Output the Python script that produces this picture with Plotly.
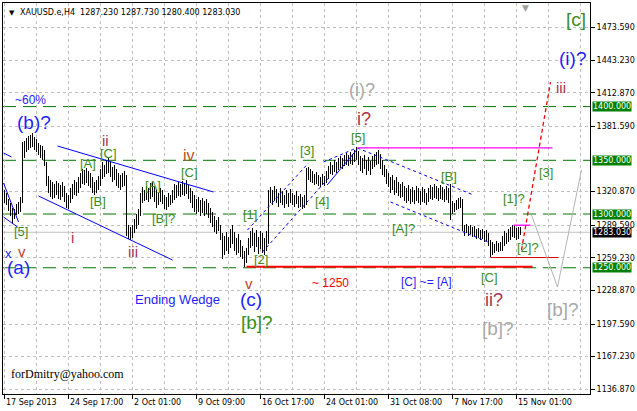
import plotly.graph_objects as go

# ---------------- data ----------------
highs = [1322,1320,1314,1310,1306,1305,1309,1311,1316,1367,
         1368,1371,1373,1374,1375,1372,1370,1366,1364,1363,
         1360,1348,1335,1332,1330,1328,1331,1329,1327,1330,
         1326,1320,1318,1324,1328,1332,1330,1334,1338,1342,
         1341,1343,1340,1338,1334,1330,1332,1335,1342,1348,
         1346,1350,1353,1348,1344,1346,1342,1338,1336,1338,
         1340,1336,1290,1288,1290,1295,1300,1305,1320,1325,
         1322,1326,1324,1329,1330,1325,1322,1320,1324,1322,
         1318,1316,1320,1318,1322,1328,1327,1330,1328,1331,
         1329,1332,1327,1324,1321,1318,1314,1316,1313,1315,
         1312,1314,1310,1306,1302,1298,1294,1297,1290,1282,
         1280,1283,1279,1286,1290,1283,1278,1281,1276,1270,
         1266,1268,1278,1284,1287,1282,1285,1279,1284,1282,
         1278,1284,1322,1325,1322,1326,1323,1320,1324,1321,
         1318,1322,1320,1323,1320,1318,1321,1317,1319,1316,
         1318,1343,1344,1342,1340,1337,1339,1336,1334,1337,
         1335,1340,1345,1348,1346,1350,1348,1352,1354,1352,
         1355,1357,1355,1358,1356,1360,1362,1359,1354,1352,
         1355,1350,1353,1349,1354,1356,1358,1360,1356,1350,
         1346,1342,1338,1334,1336,1332,1334,1330,1328,1330,
         1326,1324,1327,1323,1325,1322,1326,1324,1321,1325,
         1323,1320,1324,1327,1325,1328,1326,1324,1327,1325,
         1323,1326,1324,1328,1312,1310,1313,1315,1316,1314,
         1290,1291,1289,1290,1288,1289,1286,1287,1285,1286,
         1284,1285,1282,1276,1274,1272,1275,1273,1274,1280,
         1284,1282,1286,1288,1290,1289,1287,1288,1287.73]
lows = [1310,1308,1303,1298,1292,1295,1299,1300,1302,1310,
        1352,1358,1360,1361,1362,1360,1358,1355,1352,1350,
        1345,1326,1320,1316,1314,1315,1318,1314,1313,1316,
        1311,1306,1305,1310,1314,1318,1317,1320,1324,1328,
        1327,1329,1326,1324,1320,1318,1320,1322,1326,1333,
        1334,1337,1338,1334,1330,1332,1326,1324,1322,1325,
        1326,1280,1277,1276,1278,1282,1286,1290,1298,1310,
        1312,1313,1311,1314,1316,1311,1306,1308,1311,1309,
        1305,1304,1307,1308,1310,1313,1315,1317,1316,1318,
        1317,1319,1314,1310,1306,1302,1300,1302,1298,1301,
        1298,1300,1296,1292,1288,1283,1281,1284,1276,1258,
        1262,1266,1263,1268,1272,1266,1262,1264,1260,1258,
        1251,1254,1262,1268,1270,1265,1269,1263,1267,1264,
        1262,1266,1272,1310,1308,1312,1310,1307,1310,1308,
        1306,1309,1307,1310,1308,1307,1309,1306,1307,1305,
        1306,1308,1332,1330,1329,1327,1328,1326,1325,1327,
        1326,1329,1333,1337,1336,1339,1338,1341,1343,1342,
        1345,1346,1345,1347,1346,1348,1350,1346,1340,1338,
        1342,1336,1340,1336,1342,1344,1346,1347,1342,1336,
        1334,1328,1325,1320,1322,1318,1320,1317,1315,1316,
        1312,1310,1312,1309,1311,1309,1312,1310,1308,1311,
        1310,1308,1311,1314,1313,1315,1314,1312,1314,1313,
        1311,1313,1310,1294,1300,1302,1304,1305,1306,1284,
        1280,1282,1280,1281,1279,1280,1277,1278,1276,1277,
        1274,1275,1270,1260,1262,1264,1266,1265,1266,1266,
        1270,1272,1274,1276,1279,1278,1276,1277,1280.4]

last_ohlc = [1287.23, 1287.73, 1280.40, 1283.03]
date_ticks = [0, 32, 64, 96, 128, 160, 192, 224, 256]
date_labels = ["17 Sep 2013", "24 Sep 17:00", "2 Oct 01:00", "9 Oct 09:00",
               "16 Oct 17:00", "24 Oct 01:00", "31 Oct 08:00", "7 Nov 17:00",
               "15 Nov 01:00"]
minor_grid = [16, 48, 80, 112, 144, 176, 208, 240, 272, 288]
price_ticks = [1136.87, 1167.23, 1197.59, 1228.87, 1259.23, 1289.59,
               1320.87, 1381.59, 1412.87, 1443.23, 1473.59]
levels = [1400, 1350, 1300, 1250]

BLUE = "#1f1fff"
MAROON = "#a8344c"
GREEN = "#3a8c1c"
GREY = "#a9a9a9"
BROWN = "#b8541e"
VRED = "#c8401a"

# line objects: (x0, y0, x1, y1) in bar index / price
blue_solid = [(26.5, 1363.3, 104.5, 1320.5), (17, 1316.8, 84, 1257.2),
              (-0.5, 1356.8, 3.5, 1353.1), (-0.5, 1328.9, 7, 1292.6),
              (-0.5, 1297.2, 6.5, 1287.9), (161.3, 1327.0, 176.3, 1360.2)]
blue_dotted = [(121.5, 1285.1, 152, 1347.5), (129, 1264.7, 162, 1333.5),
               (159.5, 1348.4, 176, 1361.4), (176.5, 1361.4, 234.5, 1317.7),
               (193, 1311.2, 243, 1273.0)]
magenta_lines = [(176.5, 1361.5, 274, 1361.5), (254.5, 1289.6, 263, 1289.6)]
red_thick = [(121, 1251.0, 264, 1251.0)]
red_thin = [(243, 1259.5, 277, 1259.5)]
red_dashed = [(258.5, 1266.5, 273, 1422.8)]
grey_path_x = [263.5, 276.5, 288.5]
grey_path_y = [1299.1, 1232.1, 1341.0]

labels = [
    ("~60%", 13, 1406.1, BLUE, 12), ("(b)?", 14.5, 1385.6, BLUE, 19),
    ("x", 2, 1263.7, BLUE, 13), ("v", 8.5, 1264.7, VRED, 15),
    ("(a)", 7, 1249.8, BLUE, 19), ("[5]", 8, 1283.3, GREEN, 13),
    ("i", 34, 1277.7, MAROON, 15), ("[A]", 41.5, 1346.6, GREEN, 13),
    ("[B]", 46.5, 1312.1, GREEN, 13), ("[C]", 52, 1356.8, GREEN, 13),
    ("ii", 50.5, 1368.9, MAROON, 15), ("iii", 64, 1264.7, MAROON, 15),
    ("[A]", 74, 1327.0, GREEN, 13), ("[B]?", 79.5, 1295.4, GREEN, 13),
    ("[C]", 92.5, 1339.1, GREEN, 13), ("iv", 92, 1354.9, BROWN, 16),
    ("[1]", 122.5, 1299.1, GREEN, 13), ("[2]", 128, 1258.1, GREEN, 13),
    ("v", 122, 1235.8, VRED, 15), ("(c)", 123, 1220.9, BLUE, 19),
    ("[b]?", 126, 1199.5, GREEN, 19), ("Ending Wedge", 86.5, 1220.9, BLUE, 13),
    ("[3]", 151, 1358.7, GREEN, 13), ("[4]", 158.5, 1311.2, GREEN, 13),
    ("[5]", 176.5, 1370.8, GREEN, 13), ("i?", 179.5, 1388.5, MAROON, 18),
    ("(i)?", 178.5, 1415.4, GREY, 18), ("~ 1250", 163, 1235.8, "#ff0000", 12),
    ("[C] ~= [A]", 211, 1236.7, BLUE, 12), ("[B]", 222, 1334.5, GREEN, 13),
    ("[A]?", 199.5, 1286.9, GREEN, 13), ("[C]", 242.5, 1240.5, GREEN, 13),
    ("ii?", 244.5, 1220.0, MAROON, 18), ("[b]?", 246.5, 1193.9, GREY, 19),
    ("[1]?", 254.5, 1314.0, GREEN, 13), ("[2]?", 261.5, 1268.4, GREEN, 13),
    ("[3]", 270.5, 1338.2, GREEN, 13), ("iii", 278, 1417.3, MAROON, 15),
    ("(i)?", 284, 1445.2, BLUE, 19), ("[c]", 285.5, 1480.6, GREEN, 19),
    ("[b]?", 279, 1210.7, GREY, 19),
]
credit = ("forDmitry@yahoo.com", 31.5, 1151.1)

AXFONT = dict(family="DejaVu Sans", size=8, color="black")

# ---------------- figure ----------------
fig = go.Figure()

def seg_trace(segs, color, width, dash="solid"):
    xs, ys = [], []
    for x0, y0, x1, y1 in segs:
        xs += [x0, x1, None]
        ys += [y0, y1, None]
    return go.Scatter(x=xs, y=ys, mode="lines", hoverinfo="skip",
                      line=dict(color=color, width=width, dash=dash))

# bid line
fig.add_shape(type="line", xref="paper", x0=0, x1=1, yref="y",
              y0=last_ohlc[3], y1=last_ohlc[3], line=dict(color="#c0c0c0", width=1), layer="below")
# level lines
for lv in levels:
    fig.add_shape(type="line", xref="paper", x0=0, x1=1, yref="y", y0=lv, y1=lv,
                  line=dict(color="#007800", width=1, dash="13px,7px"), layer="below")

# bars
bx, by = [], []
for i, (h, l) in enumerate(zip(highs, lows)):
    bx += [i, i, None]
    by += [l, h, None]
fig.add_trace(go.Scatter(x=bx, y=by, mode="lines", hoverinfo="skip",
                         line=dict(color="black", width=1)))

fig.add_trace(seg_trace(blue_solid, "#0000ff", 1))
fig.add_trace(seg_trace(blue_dotted, "#0000ff", 1, "3px,3px"))
fig.add_trace(seg_trace(magenta_lines, "#ff00ff", 1.3))
fig.add_trace(seg_trace(red_thick, "#ff0000", 2))
fig.add_trace(seg_trace(red_thin, "#e00000", 1))
fig.add_trace(seg_trace(red_dashed, "#ff0000", 1.3, "4px,3px"))
fig.add_trace(go.Scatter(x=grey_path_x, y=grey_path_y, mode="lines", hoverinfo="skip",
                         line=dict(color="#b4b4b4", width=1)))

ann = []
for t, x, y, c, s in labels:
    ann.append(dict(text=t, x=x, y=y, xref="x", yref="y", showarrow=False,
                    font=dict(family="Liberation Sans", size=s, color=c)))
ann.append(dict(text=credit[0], x=credit[1], y=credit[2], xref="x", yref="y",
                showarrow=False, font=dict(family="Liberation Serif", size=12, color="black")))
# date labels
for t, x in zip(date_labels, date_ticks):
    ann.append(dict(text=t, x=x, y=0, xref="x", yref="paper", xanchor="left",
                    yanchor="top", yshift=-2, xshift=-1, showarrow=False, font=AXFONT))
# title
ann.append(dict(text="▼", x=0, y=1, xref="paper", yref="paper", xanchor="left",
                yanchor="top", xshift=4, yshift=-4, showarrow=False,
                font=dict(family="DejaVu Sans", size=7, color="black")))
ann.append(dict(text="XAUUSD.e,H4  %.3f %.3f %.3f %.3f" % tuple(last_ohlc),
                x=0, y=1, xref="paper", yref="paper", xanchor="left", yanchor="top",
                xshift=15, yshift=-3, showarrow=False, font=AXFONT))
# chart shift marker
ann.append(dict(text="▼", x=260.5, y=1, xref="x", yref="paper", yanchor="top",
                yshift=2, showarrow=False,
                font=dict(family="DejaVu Sans", size=9, color="#a0a0a0")))
# price boxes
for lv in levels:
    ann.append(dict(text="%.3f" % lv, x=1, y=lv, xref="paper", yref="y", xanchor="left",
                    xshift=2, showarrow=False, bgcolor="#008000", borderpad=0,
                    font=dict(family="DejaVu Sans", size=8, color="white")))
ann.append(dict(text="%.3f" % last_ohlc[3], x=1, y=last_ohlc[3], xref="paper", yref="y",
                xanchor="left", xshift=2, showarrow=False, bgcolor="black", borderpad=0,
                font=dict(family="DejaVu Sans", size=8, color="white")))

fig.update_layout(
    width=637, height=411, margin=dict(l=3, r=47, t=3, b=17, autoexpand=False),
    paper_bgcolor="white", plot_bgcolor="white", showlegend=False,
    annotations=ann,
    xaxis=dict(range=[-0.75, 292.75], tickvals=date_ticks, showticklabels=False,
               ticks="outside", ticklen=4, tickcolor="black",
               showgrid=True, gridcolor="#c0c0c0", griddash="3px,3px", gridwidth=1,
               minor=dict(tickvals=minor_grid, showgrid=True, gridcolor="#c0c0c0",
                          griddash="3px,3px", ticks=""),
               showline=True, linecolor="black", linewidth=1, mirror=True, zeroline=False),
    yaxis=dict(range=[1132.5, 1496.4], side="right", tickvals=price_ticks,
               ticktext=["%.3f" % v for v in price_ticks],
               ticks="outside", ticklen=4, tickcolor="black", tickfont=AXFONT,
               showgrid=True, gridcolor="#c0c0c0", griddash="3px,3px", gridwidth=1,
               showline=True, linecolor="black", linewidth=1, mirror=True, zeroline=False),
)

post = ("document.body.style.margin='0';document.body.style.overflow='hidden';"
        "var t=document.querySelectorAll('.scatterlayer .trace')[0];"
        "if(t){t.querySelectorAll('path').forEach(function(p){p.style.shapeRendering='crispEdges';});}")
fig.write_html("out.html", config=dict(displayModeBar=False), post_script=post)
